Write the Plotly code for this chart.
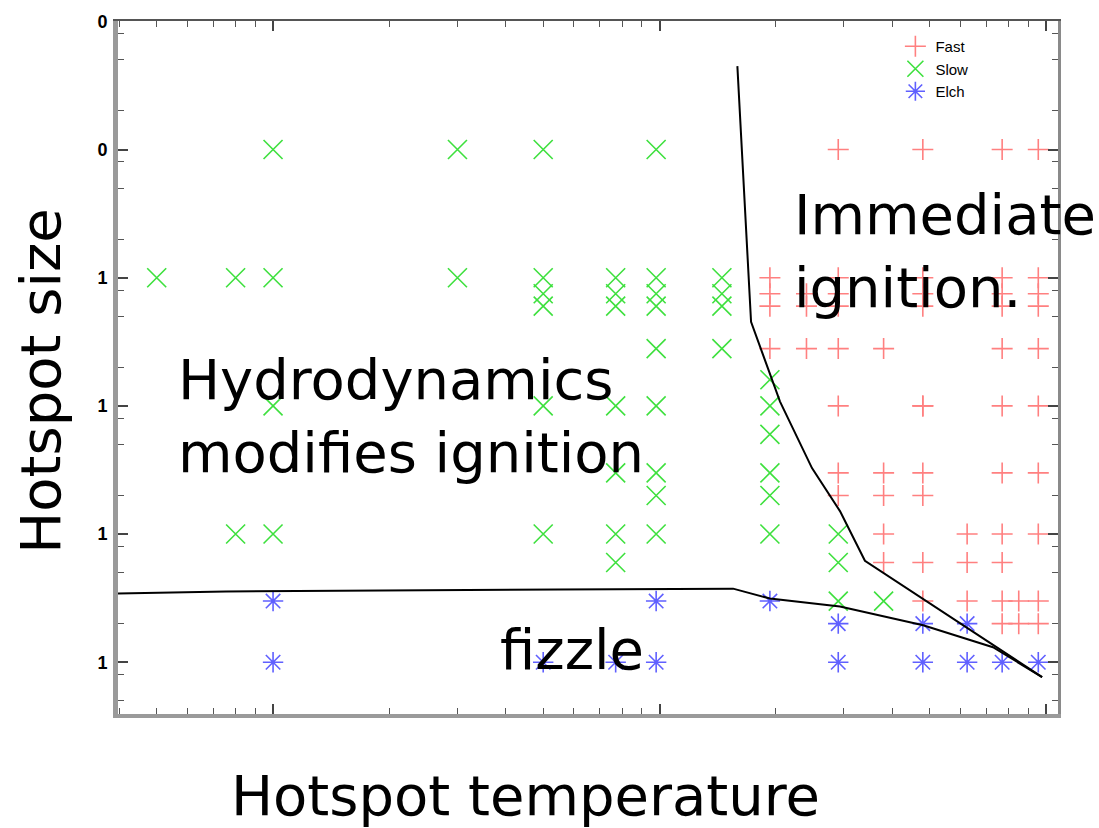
import numpy as np
import plotly.graph_objects as go

# Hotspot runs classified by outcome (temperature, size)
fast_temp = [29, 48, 77, 95.5,
             19.3, 29, 48, 77, 95.5,
             19.3, 24, 29, 48, 77, 95.5,
             19.3, 24, 29, 48, 77, 95.5,
             19.3, 24, 29, 38, 77, 95.5,
             29, 48, 48, 77, 95.5,
             29, 38, 48, 77, 95.5,
             29, 38, 48,
             38, 62.5, 77, 95.5,
             38, 48, 62.5, 77,
             48, 62.5, 77, 85, 95.5,
             77, 85, 95.5]
fast_size = [1e4, 1e4, 1e4, 1e4,
             1000, 1000, 1000, 1000, 1000,
             750, 750, 750, 750, 750, 750,
             600, 600, 600, 600, 600, 600,
             280, 280, 280, 280, 280, 280,
             100, 100, 100, 100, 100,
             30, 30, 30, 30, 30,
             20, 20, 20,
             10, 10, 10, 10,
             6, 6, 6, 6,
             3, 3, 3, 3, 3,
             2, 2, 2]

slow_temp = [0.5, 0.8, 0.8, 1, 1, 1, 1,
             3, 3,
             5, 5, 5, 5, 5, 5,
             7.7, 7.7, 7.7, 7.7, 7.7, 7.7, 7.7,
             9.8, 9.8, 9.8, 9.8, 9.8, 9.8, 9.8, 9.8, 9.8,
             14.5, 14.5, 14.5, 14.5,
             19.3, 19.3, 19.3, 19.3, 19.3, 19.3,
             29, 29, 29,
             38]
slow_size = [1000, 1000, 10, 1e4, 1000, 100, 10,
             1e4, 1000,
             1e4, 1000, 750, 600, 100, 10,
             1000, 750, 600, 100, 30, 10, 6,
             1e4, 1000, 750, 600, 280, 100, 30, 20, 10,
             1000, 750, 600, 280,
             160, 100, 60, 30, 20, 10,
             10, 6, 3,
             3]

elch_temp = [1, 9.8, 19.3,
             29, 48, 62.5,
             1, 5, 7.7, 9.8, 29, 48, 62.5, 77, 95.5]
elch_size = [3, 3, 3,
             2, 2, 2,
             1, 1, 1, 1, 1, 1, 1, 1, 1]

# Regime boundaries
ignition_temp = [15.9, 16.4, 17.25, 20.5, 24.8, 29.3, 34.0, 97.7]
ignition_size = [44800, 7900, 452, 108, 32.7, 15.1, 6.19, 0.765]
fizzle_temp = [0.39, 0.756, 5.46, 15.5, 19.3, 29.3, 48.1, 72.9, 97.7]
fizzle_size = [3.43, 3.56, 3.69, 3.75, 3.14, 2.72, 1.94, 1.31, 0.765]

size_ticks = [1, 10, 100, 1000, 1e4, 1e5]
size_ticktext = ["1", "1", "1", "1", "0", "0"]

x_range = [np.log10(0.397), np.log10(107.4)]
y_range = [-0.404, 5.003]

x_minor = [m * 10.0 ** d for d in range(-1, 3) for m in range(2, 10)]
y_minor = [m * 10.0 ** d for d in range(-1, 5) for m in (2, 5, 8)]
x_major = [1, 10, 100]

fig = go.Figure()

fig.add_trace(go.Scatter(
    x=fast_temp, y=fast_size, mode="markers", name="Fast",
    marker=dict(symbol="cross-thin", size=15, color="#ff8080",
                line=dict(color="#ff8080", width=1.6)),
))
fig.add_trace(go.Scatter(
    x=slow_temp, y=slow_size, mode="markers", name="Slow",
    marker=dict(symbol="x-thin", size=19, color="#3ee03e",
                line=dict(color="#3ee03e", width=1.6)),
))
fig.add_trace(go.Scatter(
    x=elch_temp, y=elch_size, mode="markers", name="Elch",
    marker=dict(symbol="asterisk", size=17, color="#6060ff",
                line=dict(color="#6060ff", width=1.6)),
))
fig.add_trace(go.Scatter(
    x=ignition_temp, y=ignition_size, mode="lines", showlegend=False,
    line=dict(color="black", width=2),
))
fig.add_trace(go.Scatter(
    x=fizzle_temp, y=fizzle_size, mode="lines", showlegend=False,
    line=dict(color="black", width=2),
))
# empty trace so the mirrored top/right frame axes get drawn
fig.add_trace(go.Scatter(x=[], y=[], xaxis="x2", yaxis="y2", showlegend=False))

tick_style = dict(ticks="inside", ticklen=10, tickwidth=1.5, tickcolor="#444",
                  showgrid=False, zeroline=False)

fig.update_layout(
    width=1099, height=828,
    margin=dict(l=118, r=41, t=19, b=114),
    paper_bgcolor="white", plot_bgcolor="white",
    font=dict(family="DejaVu Sans", color="black"),
    xaxis=dict(type="log", range=x_range, tickmode="array", tickvals=x_major,
               showticklabels=False, showline=True, linecolor="#9a9a9a", linewidth=4,
               minor=dict(tickmode="array", tickvals=x_minor, ticks="inside",
                          ticklen=6, tickcolor="#555", tickwidth=1.2),
               **tick_style),
    yaxis=dict(type="log", range=y_range, tickmode="array", tickvals=size_ticks,
               ticktext=size_ticktext, showline=True, linecolor="#9a9a9a", linewidth=5,
               ticklabelstandoff=2,
               tickfont=dict(family="Liberation Sans", size=18, color="black", weight="bold"),
               minor=dict(tickmode="array", tickvals=y_minor, ticks="inside",
                          ticklen=6, tickcolor="#555", tickwidth=1.2),
               **tick_style),
    xaxis2=dict(type="log", range=x_range, overlaying="x", side="top",
                tickmode="array", tickvals=x_major, showticklabels=False,
                showline=True, linecolor="#555", linewidth=2,
                minor=dict(tickmode="array", tickvals=x_minor, ticks="inside",
                           ticklen=6, tickcolor="#555", tickwidth=1.2),
                **tick_style),
    yaxis2=dict(type="log", range=y_range, overlaying="y", side="right",
                tickmode="array", tickvals=size_ticks, showticklabels=False,
                showline=True, linecolor="#8a8a8a", linewidth=3,
                minor=dict(tickmode="array", tickvals=y_minor, ticks="inside",
                           ticklen=6, tickcolor="#555", tickwidth=1.2),
                **tick_style),
    legend=dict(x=0.827, y=0.987, xanchor="left", yanchor="top",
                bgcolor="rgba(0,0,0,0)", tracegroupgap=0,
                font=dict(family="Liberation Sans", size=15, color="black")),
    showlegend=True,
)

label_font = dict(family="DejaVu Sans", size=56, color="black")
fig.add_annotation(text="Immediate<br>ignition.", xref="paper", yref="paper",
                   x=0.717, y=0.770, xanchor="left", yanchor="top", align="left",
                   showarrow=False, font=label_font)
fig.add_annotation(text="Hydrodynamics<br>modifies ignition", xref="paper", yref="paper",
                   x=0.062, y=0.532, xanchor="left", yanchor="top", align="left",
                   showarrow=False, font=label_font)
fig.add_annotation(text="fizzle", xref="paper", yref="paper",
                   x=0.404, y=0.143, xanchor="left", yanchor="top",
                   showarrow=False, font=label_font)
fig.add_annotation(text="Hotspot temperature", xref="paper", yref="paper",
                   x=0.434, y=-0.068, xanchor="center", yanchor="top",
                   showarrow=False, font=label_font)
fig.add_annotation(text="Hotspot size", xref="paper", yref="paper",
                   x=-0.082, y=0.4806, xanchor="center", yanchor="middle",
                   textangle=-90, showarrow=False, font=label_font)

fig.write_html("out.html")
